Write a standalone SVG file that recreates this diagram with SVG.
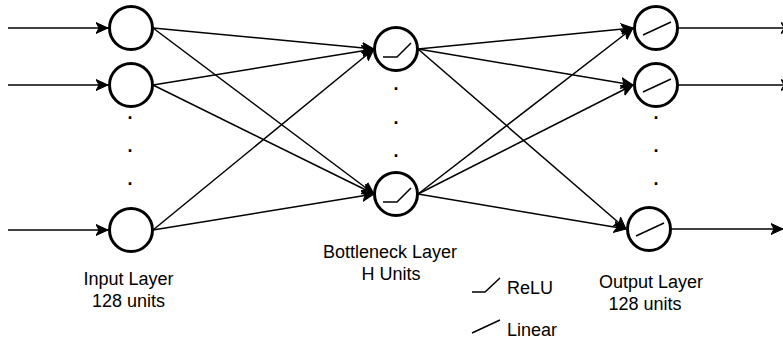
<svg xmlns="http://www.w3.org/2000/svg" width="783" height="341" viewBox="0 0 783 341">
  <style>
    .node { fill: #ffffff; stroke: #000000; stroke-width: 3; }
    .edge { fill: none; stroke: #000000; stroke-width: 1.5; }
    .sym { fill: none; stroke: #000000; stroke-width: 1.5; }
    .lbl { font-family: "Liberation Sans", Arial, Helvetica, sans-serif; font-size: 18px; fill: #000000; }
    .dot { font-family: "Liberation Sans", Arial, Helvetica, sans-serif; font-size: 18px; font-weight: bold; fill: #000000; text-anchor: middle; }
  </style>
  <defs>
    <marker id="arrow" markerUnits="userSpaceOnUse" viewBox="0 0 12 12" refX="12" refY="6" markerWidth="12" markerHeight="12" orient="auto">
      <path d="M0,0.5 L12,6 L0,11.5 L3,6 Z" fill="#000000" stroke="#000000" stroke-width="1"/>
    </marker>
  </defs>
  <rect width="783" height="341" fill="#ffffff"/>

  <g id="connectors">
    <line class="edge" x1="8" y1="28" x2="108" y2="28" marker-end="url(#arrow)"/>
    <line class="edge" x1="8" y1="85" x2="108" y2="85" marker-end="url(#arrow)"/>
    <line class="edge" x1="8" y1="230" x2="108" y2="230" marker-end="url(#arrow)"/>
    <line class="edge" x1="153" y1="28" x2="374" y2="49" marker-end="url(#arrow)"/>
    <line class="edge" x1="153" y1="28" x2="374" y2="194" marker-end="url(#arrow)"/>
    <line class="edge" x1="153" y1="85" x2="374" y2="49" marker-end="url(#arrow)"/>
    <line class="edge" x1="153" y1="85" x2="374" y2="194" marker-end="url(#arrow)"/>
    <line class="edge" x1="153" y1="230" x2="374" y2="49" marker-end="url(#arrow)"/>
    <line class="edge" x1="153" y1="230" x2="374" y2="194" marker-end="url(#arrow)"/>
    <line class="edge" x1="418" y1="49" x2="633" y2="28" marker-end="url(#arrow)"/>
    <line class="edge" x1="418" y1="49" x2="633" y2="85" marker-end="url(#arrow)"/>
    <line class="edge" x1="418" y1="49" x2="626" y2="229" marker-end="url(#arrow)"/>
    <line class="edge" x1="418" y1="194" x2="633" y2="28" marker-end="url(#arrow)"/>
    <line class="edge" x1="418" y1="194" x2="633" y2="85" marker-end="url(#arrow)"/>
    <line class="edge" x1="418" y1="194" x2="626" y2="229" marker-end="url(#arrow)"/>
    <line class="edge" x1="679" y1="28" x2="793" y2="28" marker-end="url(#arrow)"/>
    <line class="edge" x1="679" y1="85" x2="793" y2="85" marker-end="url(#arrow)"/>
    <line class="edge" x1="672" y1="229" x2="783" y2="229" marker-end="url(#arrow)"/>
  </g>

  <g id="input-1"><circle class="node" cx="131" cy="28" r="21.5"/></g>
  <g id="input-2"><circle class="node" cx="131" cy="85" r="21.5"/></g>
  <g id="input-3"><circle class="node" cx="131" cy="230" r="21.5"/></g>
  <g id="input-dots">
    <text class="dot" x="130" y="119">.</text>
    <text class="dot" x="130" y="152">.</text>
    <text class="dot" x="130" y="185">.</text>
  </g>

  <g id="bottleneck-1">
    <circle class="node" cx="396" cy="49" r="21.5"/>
    <polyline class="sym" points="383,57 397,57 411,43"/>
  </g>
  <g id="bottleneck-2">
    <circle class="node" cx="396" cy="194" r="21.5"/>
    <polyline class="sym" points="383,202 397,202 411,188"/>
  </g>
  <g id="bottleneck-dots">
    <text class="dot" x="396" y="90">.</text>
    <text class="dot" x="396" y="124">.</text>
    <text class="dot" x="396" y="157">.</text>
  </g>

  <g id="output-1">
    <circle class="node" cx="656" cy="28" r="21.5"/>
    <line class="sym" x1="643" y1="35" x2="671" y2="22"/>
  </g>
  <g id="output-2">
    <circle class="node" cx="656" cy="85" r="21.5"/>
    <line class="sym" x1="643" y1="92" x2="671" y2="79"/>
  </g>
  <g id="output-3">
    <circle class="node" cx="649" cy="229" r="21.5"/>
    <line class="sym" x1="636" y1="236" x2="664" y2="223"/>
  </g>
  <g id="output-dots">
    <text class="dot" x="656" y="119">.</text>
    <text class="dot" x="656" y="152">.</text>
    <text class="dot" x="656" y="185">.</text>
  </g>

  <g id="label-input">
    <text class="lbl" x="128.5" y="285" text-anchor="middle">Input Layer</text>
    <text class="lbl" x="128.5" y="307" text-anchor="middle">128 units</text>
  </g>
  <g id="label-bottleneck">
    <text class="lbl" x="390" y="258" text-anchor="middle">Bottleneck Layer</text>
    <text class="lbl" x="391" y="280" text-anchor="middle">H Units</text>
  </g>
  <g id="label-output">
    <text class="lbl" x="651" y="288" text-anchor="middle">Output Layer</text>
    <text class="lbl" x="645" y="310" text-anchor="middle">128 units</text>
  </g>

  <g id="legend-relu">
    <polyline class="sym" points="472,292 485,292 500,278"/>
    <text class="lbl" x="507" y="294">ReLU</text>
  </g>
  <g id="legend-linear">
    <line class="sym" x1="472" y1="333" x2="500" y2="320"/>
    <text class="lbl" x="507" y="336">Linear</text>
  </g>
</svg>
